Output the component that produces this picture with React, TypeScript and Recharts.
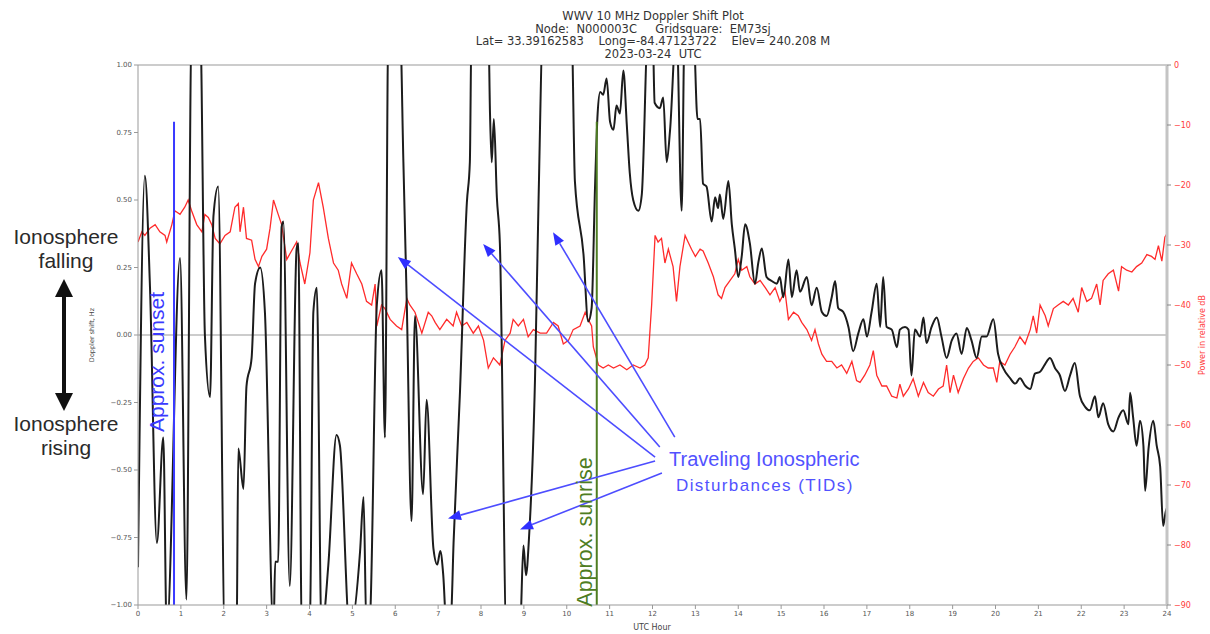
import React from 'react'
import { LineChart, Line, XAxis, YAxis, ReferenceLine } from 'recharts'

// Doppler shift trace (Hz) — hours UTC / value
const dopplerHours = [
  0.0, 0.16, 0.28, 0.44, 0.59, 0.67, 0.98, 1.13, 1.25, 1.45, 1.56, 1.68, 1.76, 1.87, 2.03, 2.3, 2.34, 2.46, 2.53, 2.65,
  2.73, 2.85, 2.96, 3.16, 3.2, 3.27, 3.35, 3.39, 3.54, 3.7, 3.74, 3.82, 4.01, 4.09, 4.17, 4.28, 4.44, 4.63, 4.71, 4.94,
  5.18, 5.26, 5.33, 5.41, 5.57, 5.68, 5.76, 5.84, 6.11, 6.19, 6.27, 6.38, 6.46, 6.65, 6.73, 6.89, 6.98, 7.05, 7.12, 7.2,
  7.3, 7.36, 7.51, 7.67, 7.74, 7.78, 8.17, 8.21, 8.25, 8.3, 8.37, 8.44, 8.6, 8.91, 8.99, 9.05, 9.12, 9.26, 9.34, 9.45,
  10.11, 10.19, 10.39, 10.5, 10.58, 10.66, 10.72, 10.78, 10.85, 10.93, 11.01, 11.09, 11.16, 11.24, 11.32, 11.4, 11.47,
  11.55, 11.67, 11.75, 11.9, 12.0, 12.05, 12.17, 12.25, 12.33, 12.41, 12.56, 12.68, 12.75, 12.95, 13.05, 13.11, 13.18,
  13.26, 13.38, 13.46, 13.53, 13.57, 13.65, 13.77, 13.85, 13.92, 14.0, 14.08, 14.16, 14.27, 14.39, 14.47, 14.55, 14.66,
  14.78, 14.9, 14.97, 15.05, 15.17, 15.25, 15.36, 15.44, 15.6, 15.71, 15.83, 15.95, 16.06, 16.18, 16.26, 16.33, 16.45,
  16.57, 16.68, 16.8, 16.92, 17.0, 17.11, 17.23, 17.31, 17.38, 17.46, 17.58, 17.7, 17.77, 17.89, 17.97, 18.04, 18.12,
  18.24, 18.32, 18.39, 18.51, 18.63, 18.74, 18.86, 18.98, 19.09, 19.21, 19.33, 19.44, 19.56, 19.68, 19.79, 19.95, 20.06,
  20.18, 20.34, 20.46, 20.57, 20.69, 20.81, 20.92, 21.04, 21.15, 21.27, 21.39, 21.5, 21.62, 21.74, 21.85, 21.97, 22.09,
  22.2, 22.32, 22.4, 22.51, 22.63, 22.75, 22.87, 22.98, 23.1, 23.14, 23.21, 23.29, 23.37, 23.45, 23.49, 23.57, 23.68,
  23.76, 23.84, 23.91, 23.97, 24.0,
]
const dopplerHz = [
  -0.86, 0.59, 0.175, -0.77, -0.38, -1.1, 0.285, -0.98, 1.15, 1.15, 0.0, -0.23, 0.44, 0.55, -1.15, -1.1, -0.42, -0.57, -0.19, -0.085,
  0.19, 0.25, 0.085, -1.1, -0.84, -0.84, 0.4, 0.42, -0.93, 0.32, 0.34, -1.1, -1.05, 0.085, 0.175, -1.1, -0.85, -0.37, -0.41, -1.1,
  -0.8, -0.6, -1.1, -1.05, 0.11, 0.24, -0.38, 1.15, 1.15, 0.64, 0.11, -0.69, 0.07, -0.59, -0.24, -0.79, -0.85, -0.8, -0.89, -1.1,
  -1.05, -0.77, -0.21, 0.49, 0.64, 1.15, 1.15, 0.82, 0.64, 0.8, 0.51, 0.34, -1.15, -1.1, -0.78, -0.89, -0.75, -0.16, 0.48, 1.15,
  1.15, 0.57, 0.3, 0.05, 0.1, 0.55, 0.82, 0.9, 0.89, 0.95, 0.79, 0.76, 0.85, 0.82, 0.98, 0.78, 0.6,
  0.5, 0.46, 0.52, 1.15, 1.15, 0.86, 0.84, 0.88, 0.64, 0.76, 1.15, 0.46, 1.15, 1.15, 0.8, 0.8, 0.56,
  0.55, 0.42, 0.51, 0.47, 0.52, 0.43, 0.57, 0.41, 0.32, 0.215, 0.29, 0.41, 0.34, 0.19, 0.27, 0.32, 0.215,
  0.2, 0.19, 0.215, 0.14, 0.28, 0.14, 0.24, 0.16, 0.215, 0.11, 0.175, 0.085, 0.07, 0.14, 0.2, 0.1, 0.085,
  0.03, -0.06, 0.006, 0.058, -0.006, 0.085, 0.19, 0.03, 0.215, 0.03, 0.02, -0.045, 0.02, 0.03, 0.02, -0.15, 0.02,
  -0.006, 0.065, -0.03, 0.03, 0.065, -0.006, -0.085, -0.02, 0.006, -0.07, 0.026, -0.02, -0.085, -0.006, -0.006, 0.058, -0.07,
  -0.123, -0.16, -0.18, -0.16, -0.187, -0.2, -0.143, -0.136, -0.11, -0.085, -0.123, -0.149, -0.207, -0.149, -0.104, -0.227, -0.266,
  -0.279, -0.227, -0.305, -0.253, -0.331, -0.357, -0.305, -0.279, -0.331, -0.214, -0.305, -0.41, -0.318, -0.41, -0.577, -0.42, -0.318,
  -0.41, -0.486, -0.707, -0.655, -0.64,
]

// Received power trace (relative dB)
const powerHours = [
  0.0, 0.09, 0.16, 0.28, 0.4, 0.51, 0.63, 0.67, 0.79, 0.86, 0.98, 1.09, 1.17, 1.25, 1.37, 1.49, 1.56, 1.64, 1.72, 1.8,
  1.91, 2.03, 2.15, 2.26, 2.34, 2.38, 2.46, 2.53, 2.65, 2.73, 2.81, 2.89, 3.0, 3.08, 3.16, 3.27, 3.35, 3.47, 3.58, 3.7,
  3.78, 3.89, 4.01, 4.09, 4.21, 4.32, 4.44, 4.56, 4.67, 4.75, 4.87, 4.98, 5.1, 5.22, 5.33, 5.45, 5.53, 5.57, 5.68, 5.76,
  5.88, 6.03, 6.15, 6.27, 6.34, 6.46, 6.62, 6.77, 6.85, 6.93, 7.04, 7.2, 7.35, 7.43, 7.55, 7.67, 7.82, 7.94, 8.06, 8.17,
  8.29, 8.44, 8.56, 8.68, 8.75, 8.87, 8.99, 9.1, 9.22, 9.38, 9.53, 9.69, 9.8, 9.92, 10.04, 10.15, 10.31, 10.43, 10.5, 10.58,
  10.62, 10.74, 10.85, 10.97, 11.09, 11.24, 11.4, 11.55, 11.71, 11.82, 11.9, 11.98, 12.06, 12.13, 12.21, 12.29, 12.37, 12.48,
  12.56, 12.64, 12.76, 12.83, 12.91, 13.0, 13.11, 13.18, 13.3, 13.42, 13.53, 13.61, 13.69, 13.81, 13.92, 14.0, 14.08, 14.2,
  14.27, 14.39, 14.51, 14.63, 14.74, 14.86, 14.97, 15.09, 15.17, 15.29, 15.4, 15.48, 15.6, 15.71, 15.79, 15.87, 15.95, 16.06,
  16.18, 16.3, 16.41, 16.53, 16.65, 16.76, 16.84, 16.95, 17.07, 17.15, 17.23, 17.35, 17.46, 17.58, 17.7, 17.77, 17.85, 17.97,
  18.08, 18.2, 18.32, 18.43, 18.55, 18.67, 18.78, 18.86, 18.94, 19.02, 19.13, 19.25, 19.37, 19.48, 19.6, 19.72, 19.83, 19.95,
  20.03, 20.1, 20.22, 20.34, 20.45, 20.57, 20.69, 20.81, 20.88, 20.96, 21.04, 21.16, 21.23, 21.35, 21.46, 21.58, 21.7, 21.81,
  21.93, 22.01, 22.13, 22.24, 22.36, 22.44, 22.51, 22.63, 22.75, 22.87, 22.94, 23.06, 23.18, 23.29, 23.41, 23.53, 23.64, 23.72,
  23.8, 23.88, 23.95, 24.0,
]
const powerDb = [
  -29.5, -27.8, -28.4, -27.2, -26.6, -27.8, -28.4, -29.5, -26.6, -24.3, -24.9, -23.7, -22.5, -24.3, -26.6, -27.8, -24.9, -25.4, -26.6, -28.9,
  -29.8, -28.4, -27.8, -23.7, -23.1, -27.8, -23.7, -28.9, -29.2, -32.4, -33.6, -31.9, -30.7, -27.2, -22.5, -24.9, -26.6, -32.4, -31.0, -29.5,
  -33.0, -36.5, -31.3, -22.5, -19.6, -23.7, -28.9, -33.0, -34.2, -36.5, -38.9, -33.0, -34.8, -36.5, -39.4, -40.0, -36.5, -43.5, -40.0, -40.6,
  -42.4, -43.5, -44.1, -38.9, -40.0, -41.2, -44.7, -41.2, -41.8, -42.9, -44.1, -42.4, -43.5, -41.2, -43.5, -42.9, -44.7, -43.5, -45.9, -50.5,
  -48.8, -50.0, -45.9, -44.7, -42.4, -43.5, -42.4, -45.3, -44.1, -44.7, -44.7, -42.9, -43.5, -46.5, -45.9, -44.1, -43.5, -41.2, -42.4, -43.5,
  -47.0, -50.0, -50.5, -50.0, -50.5, -50.0, -50.8, -50.0, -50.5, -50.0, -48.8, -40.0, -28.4, -29.5, -28.9, -33.0, -30.7, -33.6,
  -39.4, -33.6, -28.4, -29.5, -30.7, -31.9, -30.7, -31.0, -33.0, -35.3, -38.3, -38.9, -37.1, -35.9, -34.8, -32.4, -34.2, -33.6,
  -35.3, -36.5, -35.9, -37.1, -38.3, -37.1, -39.4, -37.7, -42.4, -41.2, -41.8, -42.9, -44.1, -45.9, -44.1, -46.5, -48.2, -49.4,
  -49.4, -50.5, -50.0, -51.4, -49.4, -52.6, -52.9, -51.7, -50.0, -47.6, -51.7, -53.5, -53.5, -55.2, -55.5, -53.2, -55.2, -54.0,
  -52.3, -55.2, -52.9, -54.6, -55.2, -54.0, -53.5, -50.0, -54.6, -51.7, -54.6, -52.3, -50.5, -49.4, -48.8, -50.0, -50.5, -50.5,
  -52.9, -49.4, -50.0, -48.2, -47.0, -45.3, -46.5, -44.1, -41.8, -44.7, -40.0, -41.8, -43.5, -40.6, -40.0, -39.4, -40.0, -38.9,
  -41.2, -37.1, -39.4, -38.9, -36.5, -40.0, -35.9, -34.8, -34.2, -37.7, -33.6, -34.2, -34.5, -33.6, -33.0, -31.6, -31.9, -32.4,
  -30.1, -32.7, -28.7, -28.1,
]

const hourTicks = [0, 1, 2, 3, 4, 5, 6, 7, 8, 9, 10, 11, 12, 13, 14, 15, 16, 17, 18, 19, 20, 21, 22, 23, 24]
const dopplerTicks = [-1, -0.75, -0.5, -0.25, 0, 0.25, 0.5, 0.75, 1]
const powerTicks = [-90, -80, -70, -60, -50, -40, -30, -20, -10, 0]

// annotations (hour, Hz)
const sunsetHour = 0.84
const sunriseHour = 10.7
const markerTop = 0.79
const tidTails = [[12.06, -0.452], [12.17, -0.415], [12.52, -0.378], [12.06, -0.467], [12.22, -0.511]]
const tidTips = [[6.06, 0.289], [8.05, 0.337], [9.68, 0.381], [7.23, -0.68], [8.91, -0.72]]

const titleLines = [
  'WWV 10 MHz Doppler Shift Plot',
  'Node:  N000003C     Gridsquare:  EM73sj',
  'Lat= 33.39162583    Long=-84.47123722    Elev= 240.208 M',
  '2023-03-24  UTC',
]

const dopplerData = dopplerHours.map((h, i) => ({ h, v: dopplerHz[i] }))
const powerData = powerHours.map((h, i) => ({ h, v: powerDb[i] }))

const minus = (s: string) => s.replace('-', '\u2212')

function TidArrow(props: any) {
  const { x1, y1, x2, y2 } = props
  const ang = Math.atan2(y2 - y1, x2 - x1)
  const len = 13
  const half = 5
  const bx = x2 - len * Math.cos(ang)
  const by = y2 - len * Math.sin(ang)
  const px = -Math.sin(ang) * half
  const py = Math.cos(ang) * half
  return (
    <g>
      <line x1={x1} y1={y1} x2={bx} y2={by} stroke="#4d4dff" strokeWidth={1.6} />
      <polygon points={`${x2},${y2} ${bx + px},${by + py} ${bx - px},${by - py}`} fill="#2f2fff" />
    </g>
  )
}

const tickStyle = { fontSize: 7, fill: '#555', fontFamily: 'DejaVu Sans' }

export default function App() {
  return (
    <div style={{ position: 'absolute', left: 0, top: 0, width: 1210, height: 634, background: '#fff' }}>
      <LineChart width={1210} height={634} margin={{ top: 65, right: 3, bottom: 0, left: 98 }}>
        <XAxis
          type="number"
          dataKey="h"
          domain={[0, 24]}
          ticks={hourTicks}
          interval={0}
          height={29}
          tick={tickStyle}
          tickSize={4}
          tickMargin={2}
          stroke="#999"
          allowDataOverflow
        />
        <YAxis
          yAxisId="dop"
          domain={[-1, 1]}
          ticks={dopplerTicks}
          interval={0}
          width={40}
          tick={tickStyle}
          tickSize={4}
          tickMargin={2}
          stroke="#999"
          allowDataOverflow
          tickFormatter={(v: number) => minus(v.toFixed(2))}
        />
        <YAxis
          yAxisId="pow"
          orientation="right"
          domain={[-90, 0]}
          ticks={powerTicks}
          interval={0}
          width={40}
          tick={{ ...tickStyle, fontSize: 8, fill: '#ff3b3b' }}
          tickSize={4}
          tickMargin={3}
          axisLine={{ stroke: '#c4c4c4', strokeWidth: 3 }}
          tickLine={{ stroke: '#888' }}
          allowDataOverflow
          tickFormatter={(v: number) => minus(String(v))}
        />
        <ReferenceLine yAxisId="dop" y={1} stroke="#999" />
        <ReferenceLine yAxisId="dop" y={0} stroke="#9a9a9a" strokeWidth={1.2} />
        <Line
          yAxisId="pow"
          data={powerData}
          dataKey="v"
          type="linear"
          stroke="#ff2b2b"
          strokeWidth={1.3}
          dot={false}
          isAnimationActive={false}
        />
        <Line
          yAxisId="dop"
          data={dopplerData}
          dataKey="v"
          type="monotone"
          stroke="#1c1c1c"
          strokeWidth={2}
          dot={false}
          isAnimationActive={false}
        />
        <ReferenceLine
          yAxisId="dop"
          segment={[{ x: sunsetHour, y: markerTop }, { x: sunsetHour, y: -1 }]}
          stroke="#3a3aff"
          strokeWidth={2}
        />
        <ReferenceLine
          yAxisId="dop"
          segment={[{ x: sunriseHour, y: markerTop }, { x: sunriseHour, y: -1 }]}
          stroke="#4e7d22"
          strokeWidth={2}
        />
        {tidTips.map((tip, i) => (
          <ReferenceLine
            key={i}
            yAxisId="dop"
            segment={[{ x: tidTails[i][0], y: tidTails[i][1] }, { x: tip[0], y: tip[1] }]}
            shape={TidArrow}
          />
        ))}
      </LineChart>

      <svg
        width={1210}
        height={634}
        style={{ position: 'absolute', left: 0, top: 0, pointerEvents: 'none' }}
      >
        {titleLines.map((t, i) => (
          <text
            key={i}
            x={653}
            y={20 + i * 12.7}
            textAnchor="middle"
            fontSize={11.5}
            fontFamily="DejaVu Sans"
            fill="#333"
            style={{ whiteSpace: 'pre' }}
          >
            {t}
          </text>
        ))}
        <text x={652} y={630} textAnchor="middle" fontSize={8} fontFamily="DejaVu Sans" fill="#444">
          UTC Hour
        </text>
        <text
          transform="translate(94,335) rotate(-90)"
          textAnchor="middle"
          fontSize={6.5}
          fontFamily="DejaVu Sans"
          fill="#444"
        >
          Doppler shift, Hz
        </text>
        <text
          transform="translate(1205,335) rotate(-90)"
          textAnchor="middle"
          fontSize={8}
          fontFamily="DejaVu Sans"
          fill="#ff3b3b"
        >
          Power in relative dB
        </text>

        <g fontFamily="Liberation Sans" fontSize={21} fill="#2a2a2a" textAnchor="middle">
          <text x={66} y={244}>Ionosphere</text>
          <text x={66} y={268}>falling</text>
          <text x={66} y={431}>Ionosphere</text>
          <text x={66} y={455}>rising</text>
        </g>
        <line x1={64} y1={294} x2={64} y2={396} stroke="#111" strokeWidth={4} />
        <polygon points="64,279 55,297 73,297" fill="#111" />
        <polygon points="64,411 55,393 73,393" fill="#111" />

        <text
          transform="translate(164,362) rotate(-90)"
          textAnchor="middle"
          fontSize={21}
          fontFamily="Liberation Sans"
          fill="#3a3aff"
        >
          Approx. sunset
        </text>
        <text
          transform="translate(592,532) rotate(-90)"
          textAnchor="middle"
          fontSize={21.5}
          fontFamily="Liberation Sans"
          fill="#4e7d22"
        >
          Approx. sunrise
        </text>
        <text x={669} y={466} fontSize={20} fontFamily="Liberation Sans" fill="#5252ff">
          Traveling Ionospheric
        </text>
        <text x={676} y={491} fontSize={17} letterSpacing={1.4} fontFamily="Liberation Sans" fill="#5252ff">
          Disturbances (TIDs)
        </text>
      </svg>
    </div>
  )
}
